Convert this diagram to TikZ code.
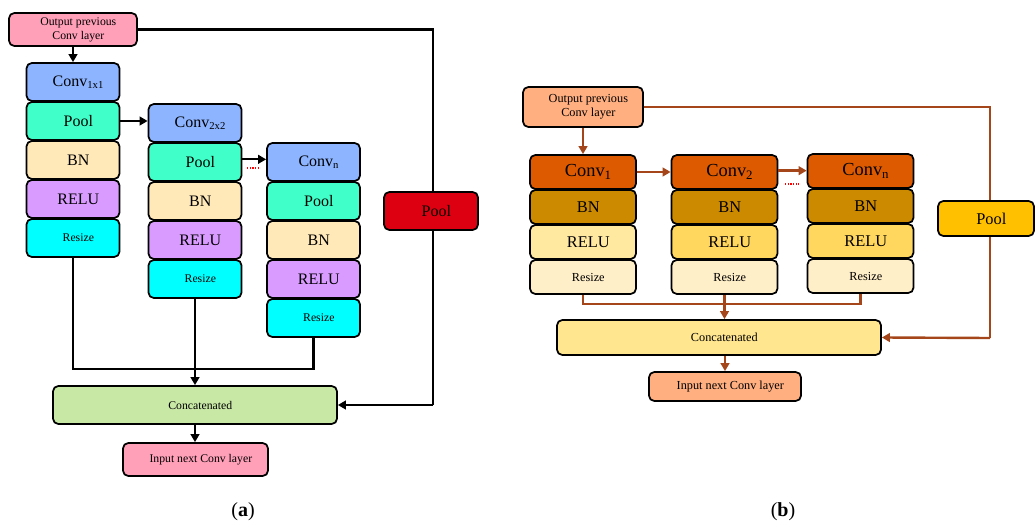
\documentclass[tikz,border=0pt]{standalone}
\usepackage{fontspec}
\setmainfont{Liberation Serif}
\usetikzlibrary{arrows.meta}
\definecolor{pinkA}{HTML}{FF9FB8}
\definecolor{convA}{HTML}{8DB4FF}
\definecolor{poolA}{HTML}{40FFC8}
\definecolor{bnA}{HTML}{FFE9B8}
\definecolor{reluA}{HTML}{D99BFF}
\definecolor{rsA}{HTML}{00FFFF}
\definecolor{redA}{HTML}{DD0011}
\definecolor{concatA}{HTML}{C8E8A6}
\definecolor{outBc}{HTML}{FFAF80}
\definecolor{convB}{HTML}{DE5A00}
\definecolor{bnB}{HTML}{CC8A00}
\definecolor{reluBa}{HTML}{FFE8A0}
\definecolor{reluBb}{HTML}{FFD75E}
\definecolor{rsB}{HTML}{FFEFC8}
\definecolor{poolBc}{HTML}{FFC000}
\definecolor{concatB}{HTML}{FFE68F}
\definecolor{brownB}{HTML}{A4461A}
\begin{document}
\begin{tikzpicture}[x=0.75pt,y=-0.75pt,
  blk/.style={draw=black, line width=1.3pt, rounded corners=4pt, inner sep=0pt,
    execute at begin node={\hspace*{8pt}}},
  bigA/.style={font=\fontsize{12}{14}\selectfont},
  smallA/.style={font=\fontsize{8.8}{10.5}\selectfont},
  bigB/.style={font=\fontsize{12.3}{14}\selectfont},
  convfontB/.style={font=\fontsize{13.8}{16}\selectfont},
  smallB/.style={font=\fontsize{9.2}{10.5}\selectfont},
  wa/.style={minimum width=69.75pt, minimum height=28.5pt},
  wb/.style={minimum width=79.5pt, minimum height=25.5pt},
  conA/.style={draw=black, line width=1.7pt},
  conB/.style={draw=brownB, line width=1.8pt},
  tipA/.style={-{Triangle[length=6pt,width=6.5pt]}},
  dotsr/.style={draw=red, line width=1pt, dash pattern=on 1pt off 1pt}
]
\useasboundingbox (0,0) rectangle (1035,527);

% ---------------- panel (a) ----------------
\node[blk, fill=pinkA, smallA, minimum width=96pt, minimum height=24.75pt, align=center] (outA) at (73,29.5) {Output previous\\Conv layer};

\node[blk, wa, fill=convA, bigA] (cA1) at (73,82) {Conv\textsubscript{1x1}};
\node[blk, wa, fill=poolA, bigA] (pA1) at (73,121) {Pool};
\node[blk, wa, fill=bnA, bigA] (bA1) at (73,160) {BN};
\node[blk, wa, fill=reluA, bigA] (lA1) at (73,199) {RELU};
\node[blk, wa, fill=rsA, smallA] (rA1) at (73,238) {Resize};

\node[blk, wa, fill=convA, bigA] (cA2) at (195,123) {Conv\textsubscript{2x2}};
\node[blk, wa, fill=poolA, bigA] (pA2) at (195,162) {Pool};
\node[blk, wa, fill=bnA, bigA] (bA2) at (195,201) {BN};
\node[blk, wa, fill=reluA, bigA] (lA2) at (195,240) {RELU};
\node[blk, wa, fill=rsA, smallA] (rA2) at (195,279) {Resize};

\node[blk, wa, fill=convA, bigA] (cA3) at (313.5,162) {Conv\textsubscript{n}};
\node[blk, wa, fill=poolA, bigA] (pA3) at (313.5,201) {Pool};
\node[blk, wa, fill=bnA, bigA] (bA3) at (313.5,240) {BN};
\node[blk, wa, fill=reluA, bigA] (lA3) at (313.5,279) {RELU};
\node[blk, wa, fill=rsA, smallA] (rA3) at (313.5,318) {Resize};

\node[blk, fill=concatA, smallA, minimum width=213pt, minimum height=28.5pt] (concatA) at (195,405) {Concatenated};
\node[blk, fill=pinkA, smallA, minimum width=108.75pt, minimum height=24.75pt] (inA) at (195.5,459.5) {Input next Conv layer};

\coordinate (mA) at (195,369);
\coordinate (dA1) at (247,168);
\coordinate (dA2) at (258,168);
\coordinate (kA1) at (433,29.5);
\coordinate (kA2) at (433,405);

\draw[conA] (outA.east) -- (kA1) -- (kA2);
\draw[conA, tipA] (kA2) -- (concatA.east);
\node[blk, fill=redA, bigA, minimum width=70.5pt, minimum height=28.5pt] (poolA) at (431,211) {Pool};

\draw[conA, tipA] (outA.south) -- (cA1.north);
\draw[conA, tipA] (pA1.east) -- (pA1.east -| cA2.west);
\draw[conA, tipA] ([yshift=2pt]pA2.east) -- ([yshift=2pt]pA2.east -| cA3.west);
\draw[dotsr] (dA1) -- (dA2);
\draw[conA] (rA1.south) |- (mA) -| (rA3.south);
\draw[conA, tipA] (rA2.south) -- (concatA.north);
\draw[conA, tipA] (concatA.south) -- (concatA.south |- inA.north);

% ---------------- panel (b) ----------------
\node[blk, fill=outBc, smallB, minimum width=90pt, minimum height=30pt, align=center] (outB) at (583,107) {Output previous\\Conv layer};

\node[blk, wb, fill=convB, convfontB] (cB1) at (583,172) {Conv\textsubscript{1}};
\node[blk, wb, fill=bnB, bigB] (bB1) at (583,207) {BN};
\node[blk, wb, fill=reluBa, bigB] (lB1) at (583,242) {RELU};
\node[blk, wb, fill=rsB, smallB] (rB1) at (583,277) {Resize};

\node[blk, wb, fill=convB, convfontB] (cB2) at (724.5,172) {Conv\textsubscript{2}};
\node[blk, wb, fill=bnB, bigB] (bB2) at (724.5,207) {BN};
\node[blk, wb, fill=reluBb, bigB] (lB2) at (724.5,242) {RELU};
\node[blk, wb, fill=rsB, smallB] (rB2) at (724.5,277) {Resize};

\node[blk, wb, fill=convB, convfontB] (cB3) at (860.5,171) {Conv\textsubscript{n}};
\node[blk, wb, fill=bnB, bigB] (bB3) at (860.5,206) {BN};
\node[blk, wb, fill=reluBb, bigB] (lB3) at (860.5,241) {RELU};
\node[blk, wb, fill=rsB, smallB] (rB3) at (860.5,276) {Resize};

\node[blk, fill=concatB, smallB, minimum width=243pt, minimum height=26.25pt] (concatB) at (719,337.5) {Concatenated};
\node[blk, fill=outBc, smallB, minimum width=114pt, minimum height=21.75pt] (inB) at (725,386.5) {Input next Conv layer};

\coordinate (mB) at (724.5,304);
\coordinate (dB1) at (785,184);
\coordinate (dB2) at (799,184);
\coordinate (kB1) at (990,107);
\coordinate (kB2) at (990,338);

\draw[conB] (outB.east) -- (kB1) -- (kB2);
\draw[conB, tipA] (kB2) -- (concatB.east);
\node[blk, fill=poolBc, bigB, minimum width=72pt, minimum height=26.25pt] (poolB) at (986,218.5) {Pool};

\draw[conB, tipA] (outB.south) -- (cB1.north);
\draw[conB, tipA] (cB1.east) -- (cB1.east -| cB2.west);
\draw[conB, tipA] ([yshift=1pt]cB2.east) -- ([yshift=1pt]cB2.east -| cB3.west);
\draw[dotsr] (dB1) -- (dB2);
\draw[conB] (rB1.south) |- (mB) -| (rB3.south);
\draw[conB, tipA] (rB2.south) -- (rB2.south |- concatB.north);
\draw[conB, tipA] (inB.north |- concatB.south) -- (inB.north);

% ---------------- labels ----------------
\node[inner sep=0pt, font=\fontsize{15}{18}\selectfont] (labA) at (243,512) {(\textbf{a})};
\node[inner sep=0pt, font=\fontsize{15}{18}\selectfont] (labB) at (783,512) {(\textbf{b})};
\end{tikzpicture}
\end{document}
